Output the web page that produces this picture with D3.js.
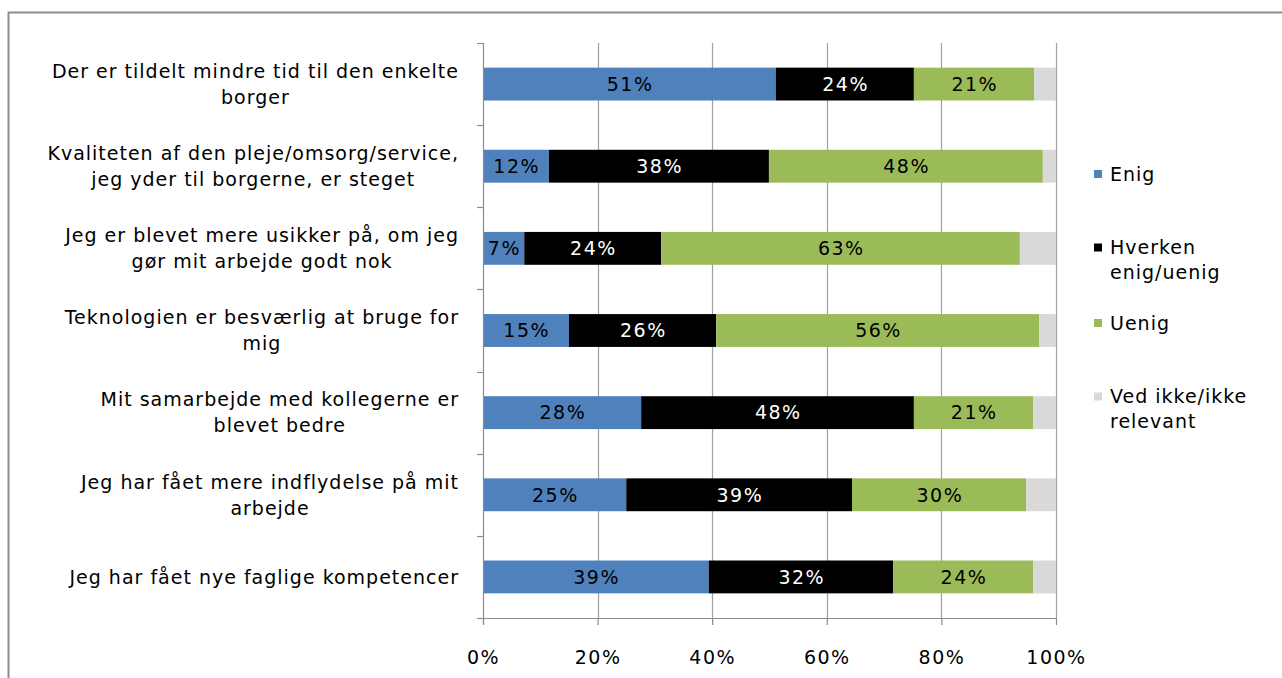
<!DOCTYPE html>
<html>
<head>
<meta charset="utf-8">
<script src="https://cdn.jsdelivr.net/npm/d3@7"></script>
<style>
  html, body { margin: 0; padding: 0; background: #fff; }
  svg { display: block; }
</style>
</head>
<body>
<svg id="chart" width="1282" height="678"></svg>
<script>
// ---- data ----
const categories = [
  ["Der er tildelt mindre tid til den enkelte", "borger"],
  ["Kvaliteten af den pleje/omsorg/service,", "jeg yder til borgerne, er steget"],
  ["Jeg er blevet mere usikker på, om jeg", "gør mit arbejde godt nok"],
  ["Teknologien er besværlig at bruge for", "mig"],
  ["Mit samarbejde med kollegerne er", "blevet bedre"],
  ["Jeg har fået mere indflydelse på mit", "arbejde"],
  ["Jeg har fået nye faglige kompetencer"]
];
const seriesNames = ["Enig", "Hverken enig/uenig", "Uenig", "Ved ikke/ikke relevant"];
const legendLines = [["Enig"], ["Hverken", "enig/uenig"], ["Uenig"], ["Ved ikke/ikke", "relevant"]];
const enig    = [51.1, 11.5, 7.2, 15.0, 27.6, 25.0, 39.4];
const hverken = [24.1, 38.4, 23.9, 25.7, 47.6, 39.4, 32.2];
const uenig   = [21.0, 47.8, 62.6, 56.4, 20.8, 30.4, 24.4];
const vedIkke = [3.8, 2.3, 6.3, 2.9, 4.0, 5.2, 4.0];
const xTicks = [0, 20, 40, 60, 80, 100];
const colors = ["#4F81BD", "#000000", "#9BBB59", "#D9D9D9"];
const labelColors = ["#000000", "#FFFFFF", "#000000", "#000000"];

// ---- layout ----
const svg = d3.select("#chart");
const FONT = "'DejaVu Sans', Verdana, sans-serif";
const LS = 1.5;
const LS2 = 1;
const plot = { left: 483, right: 1056, top: 43, bottom: 618 };

// outer border
svg.append("path")
  .attr("d", `M8.5,700 L8.5,12.5 L1290,12.5`)
  .attr("fill", "none").attr("stroke", "#8c8c8c").attr("stroke-width", 2);

const x = d3.scaleLinear().domain([0, 100]).range([plot.left, plot.right]);
const y = d3.scaleBand().domain(d3.range(categories.length)).range([plot.top, plot.bottom]).paddingInner(0.6).paddingOuter(0.3);
const yOuter = d3.scaleBand().domain(d3.range(categories.length)).range([plot.top, plot.bottom]);

// gridlines
svg.append("g").selectAll("line").data(xTicks.slice(1)).join("line")
  .attr("x1", d => Math.round(x(d)) + 0.5).attr("x2", d => Math.round(x(d)) + 0.5)
  .attr("y1", plot.top).attr("y2", plot.bottom)
  .attr("stroke", "#A0A0A0").attr("stroke-width", 1.2);

// stacked data
const rows = categories.map((c, i) => [enig[i], hverken[i], uenig[i], vedIkke[i]]);
const stacked = rows.map((vals, i) => {
  let acc = 0;
  return vals.map((v, s) => { const o = { i, s, x0: acc, x1: acc + v, v }; acc += v; return o; });
});

const bars = svg.append("g");
stacked.forEach(row => {
  bars.selectAll(null).data(row).join("rect")
    .attr("x", d => x(d.x0)).attr("width", d => x(d.x1) - x(d.x0))
    .attr("y", d => y(d.i)).attr("height", y.bandwidth())
    .attr("fill", d => colors[d.s]);
  bars.selectAll(null).data(row.filter(d => d.s < 3)).join("text")
    .attr("x", d => (x(d.x0) + x(d.x1)) / 2 + LS / 2)
    .attr("y", d => y(d.i) + y.bandwidth() / 2)
    .attr("dy", "0.36em")
    .attr("text-anchor", "middle")
    .attr("font-family", FONT).attr("font-size", 19).attr("letter-spacing", LS)
    .attr("fill", d => labelColors[d.s])
    .text(d => Math.round(d.v) + "%");
});

// left axis
const axisG = svg.append("g");
axisG.append("line").attr("x1", plot.left + 0.5).attr("x2", plot.left + 0.5)
  .attr("y1", plot.top).attr("y2", plot.bottom + 6).attr("stroke", "#8c8c8c").attr("stroke-width", 1.2);
axisG.selectAll(".yt").data(d3.range(categories.length + 1)).join("line")
  .attr("x1", plot.left - 6).attr("x2", plot.left)
  .attr("y1", d => Math.round(plot.top + d * yOuter.step()) + 0.5)
  .attr("y2", d => Math.round(plot.top + d * yOuter.step()) + 0.5)
  .attr("stroke", "#8c8c8c").attr("stroke-width", 1.2);

// bottom axis
const xAxis = d3.axisBottom(x).tickValues(xTicks).tickFormat(d => d + "%").tickSize(7).tickPadding(26);
const xg = svg.append("g").attr("transform", `translate(0,${plot.bottom})`).call(xAxis);
xg.select(".domain").attr("stroke", "#8c8c8c").attr("stroke-width", 1.2).attr("d", `M${plot.left - 6},0.5H${plot.right}`);
xg.selectAll(".tick line").attr("stroke", "#8c8c8c").attr("stroke-width", 1.2);
xg.selectAll(".tick text").attr("font-family", FONT).attr("font-size", 19).attr("letter-spacing", LS).attr("fill", "#000");

// category labels (block right-aligned, lines centered)
const labelRight = 459;
const lineH = 26;
const catG = svg.append("g");
categories.forEach((lines, i) => {
  const cy = yOuter(i) + yOuter.bandwidth() / 2;
  const t = catG.append("text").attr("font-family", FONT).attr("font-size", 19)
    .attr("letter-spacing", LS2).attr("fill", "#000");
  const spans = lines.map((ln, k) => t.append("tspan").text(ln)
    .attr("y", cy + (k - (lines.length - 1) / 2) * lineH).attr("dy", "0.36em"));
  const maxW = d3.max(spans, s => s.node().getComputedTextLength());
  const cx = labelRight - maxW / 2;
  spans.forEach(s => s.attr("x", cx).attr("text-anchor", "middle"));
});

// legend
const legendY = [174, 260, 323, 409];
const legG = svg.append("g");
legendLines.forEach((lines, s) => {
  const top = legendY[s] - (lines.length - 1) * 25 / 2;
  legG.append("rect").attr("x", 1094).attr("y", top - 4).attr("width", 8).attr("height", 8).attr("fill", colors[s]);
  const t = legG.append("text").attr("font-family", FONT).attr("font-size", 19)
    .attr("letter-spacing", LS2).attr("fill", "#000");
  lines.forEach((ln, k) => t.append("tspan").attr("x", 1110).attr("y", top + k * 25).attr("dy", "0.36em").text(ln));
});
</script>
</body>
</html>
